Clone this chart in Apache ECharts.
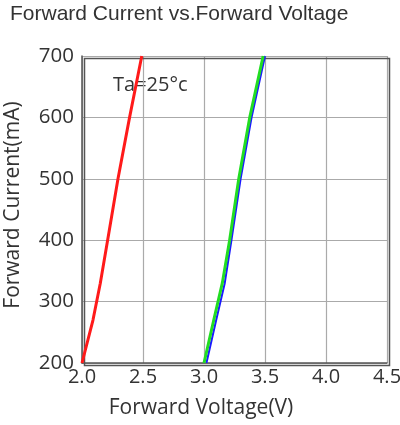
<!DOCTYPE html>
<html><head><meta charset="utf-8">
<script src="https://cdn.jsdelivr.net/npm/echarts@6/dist/echarts.min.js"></script>
<style>html,body{margin:0;padding:0;background:#fff}#c{width:400px;height:425px}</style>
</head><body><div id="c"></div>
<script>
const xTicks = [2.0, 2.5, 3.0, 3.5, 4.0, 4.5];
const yTicks = [200, 300, 400, 500, 600, 700];
const redV = [2.0, 2.09, 2.15, 2.21, 2.295, 2.39, 2.49];
const redI = [200, 270, 330, 400, 500, 600, 700];
const blueV = [3.02, 3.1, 3.17, 3.225, 3.3, 3.39, 3.5];
const blueI = [200, 270, 330, 400, 500, 600, 700];
const greenV = [3.0, 3.08, 3.15, 3.21, 3.285, 3.375, 3.485];
const greenI = [200, 270, 330, 400, 500, 600, 700];

const pairs = (xs, ys) => xs.map((x, i) => [x, ys[i]]);
const font = 'Open Sans';
const chart = echarts.init(document.getElementById('c'));
chart.setOption({
  animation: false,
  title: {text: 'Forward Current vs.Forward Voltage', left: 5, top: -1,
    textStyle: {fontFamily: 'Liberation Sans', fontSize: 21, fontWeight: 'normal', color: '#333'}},
  grid: {left: 82, right: 13, top: 56, bottom: 62, outerBoundsMode: 'none', containLabel: false},
  xAxis: {type: 'value', min: xTicks[0], max: xTicks[xTicks.length-1], interval: 0.5,
    name: 'Forward Voltage(V)', nameLocation: 'middle', nameGap: 35,
    nameTextStyle: {fontFamily: font, fontSize: 21, color: '#333', padding: [0, 67, 0, 0]},
    axisLine: {show: true, lineStyle: {color: '#555', width: 1.5}}, axisTick: {show: false},
    axisLabel: {fontFamily: font, fontSize: 20, color: '#333', margin: 4, formatter: v => v.toFixed(1)},
    splitLine: {show: true, lineStyle: {color: '#aaa', width: 1.2}}},
  yAxis: {type: 'value', min: yTicks[0], max: yTicks[yTicks.length-1], interval: 100,
    name: 'Forward Current(mA)', nameLocation: 'middle', nameGap: 58, nameRotate: 90,
    nameTextStyle: {fontFamily: font, fontSize: 21, color: '#333', padding: [0, 0, 0, 9]},
    axisLine: {show: true, lineStyle: {color: '#555', width: 1.5}}, axisTick: {show: false},
    axisLabel: {fontFamily: font, fontSize: 20.5, color: '#333', margin: 8},
    splitLine: {show: true, lineStyle: {color: '#aaa', width: 1.2}}},
  graphic: [
    {type: 'rect', left: 82, top: 56, shape: {width: 305, height: 307}, z: 1, silent: true,
     style: {fill: 'none', stroke: '#555', lineWidth: 1.5}},
    {type: 'text', left: 113, top: 75, z: 0,
     style: {text: 'Ta=25°c', fontFamily: font, fontSize: 20, fill: '#333'}}
  ],
  series: [
    {type: 'line', data: pairs(redV, redI), symbol: 'none', lineStyle: {color: '#ff1a1a', width: 3}, z: 3},
    {type: 'line', data: pairs(blueV, blueI), symbol: 'none', lineStyle: {color: '#1a1aff', width: 2}, z: 2},
    {type: 'line', data: pairs(greenV, greenI), symbol: 'none', lineStyle: {color: '#22dd22', width: 3}, z: 3}
  ]
});
</script></body></html>
